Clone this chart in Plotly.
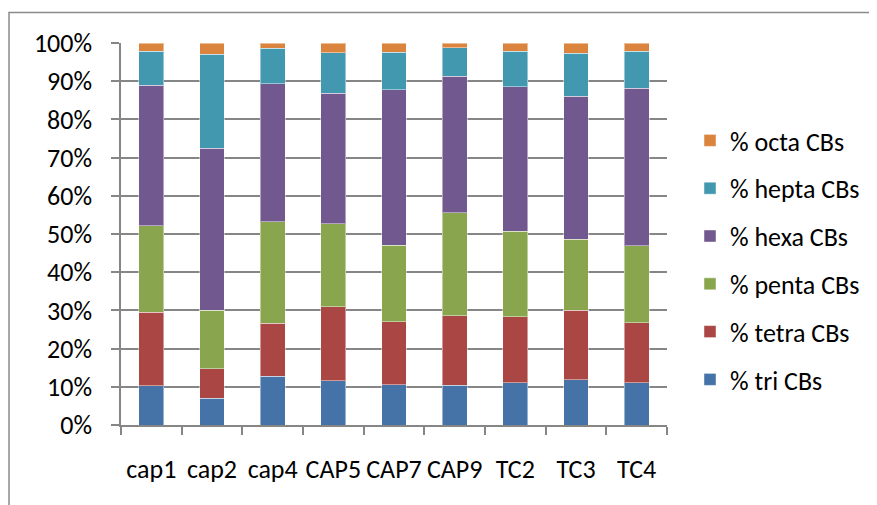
import plotly.graph_objects as go

categories = ["cap1", "cap2", "cap4", "CAP5", "CAP7", "CAP9", "TC2", "TC3", "TC4"]
tri = [10.3, 7.0, 12.7, 11.6, 10.5, 10.4, 11.1, 11.9, 11.1]
tetra = [19.2, 7.7, 14.0, 19.4, 16.5, 18.2, 17.2, 18.1, 15.7]
penta = [22.6, 15.4, 26.5, 21.7, 20.1, 27.0, 22.4, 18.6, 20.1]
hexa = [36.8, 42.4, 36.1, 34.2, 40.6, 35.7, 37.8, 37.5, 41.3]
hepta = [8.9, 24.6, 9.3, 10.6, 9.9, 7.5, 9.3, 11.2, 9.6]
octa = [2.2, 2.9, 1.4, 2.5, 2.4, 1.2, 2.2, 2.7, 2.2]

series = [
    ("% tri CBs", tri, "#4572A7"),
    ("% tetra CBs", tetra, "#AA4643"),
    ("% penta CBs", penta, "#89A54E"),
    ("% hexa CBs", hexa, "#71588F"),
    ("% hepta CBs", hepta, "#4198AF"),
    ("% octa CBs", octa, "#DB843D"),
]

FONT = "Carlito, Open Sans, Liberation Sans, sans-serif"
FS = 26

fig = go.Figure()
n = len(series)
for i, (name, vals, col) in enumerate(series):
    fig.add_trace(go.Bar(
        x=categories, y=vals, name=name, legendgroup=name, legendrank=n - i,
        marker=dict(color=col, line=dict(color="rgba(255,255,255,0.45)", width=1)),
    ))

# page is offset 8px by the browser body margin; compensate
OFF = 8
W, H = 877 - OFF, 505 - OFF
ml, mt = 121 - OFF, 43 - OFF
pw, ph = 546, 382
mr, mb = W - ml - pw, H - mt - ph

def px_x(p):
    return (p - OFF - ml) / pw

def px_y(p):
    return (H - mb - (p - OFF)) / ph

fig.update_layout(
    width=W, height=H,
    margin=dict(l=ml, r=mr, t=mt, b=mb, autoexpand=False),
    barmode="stack", barnorm="percent", bargap=0.59,
    plot_bgcolor="white", paper_bgcolor="white",
    font=dict(family=FONT, size=FS, color="#000000"),
    showlegend=True,
    legend=dict(
        x=px_x(690), y=px_y(117), xanchor="left", yanchor="top",
        traceorder="grouped", tracegroupgap=11,
        font=dict(family=FONT, size=FS, color="#000000"),
        bgcolor="rgba(0,0,0,0)",
    ),
    xaxis=dict(
        showgrid=False, showline=True, linecolor="#868686", linewidth=1.5,
        ticks="outside", ticklen=8, tickcolor="#868686", tickwidth=1.5,
        tickson="boundaries", ticklabelstandoff=20, tickangle=0,
        tickfont=dict(family=FONT, size=FS, color="#000000"),
    ),
    yaxis=dict(
        range=[0, 100], dtick=10, ticksuffix="%",
        showgrid=True, gridcolor="#868686", gridwidth=1.5,
        showline=True, linecolor="#868686", linewidth=1.5,
        ticks="outside", ticklen=8, tickcolor="#868686", tickwidth=1.5,
        ticklabelstandoff=14, zeroline=False,
        tickfont=dict(family=FONT, size=FS, color="#000000"),
    ),
    shapes=[dict(
        type="rect", xref="paper", yref="paper",
        x0=px_x(9), x1=px_x(900), y0=px_y(530), y1=px_y(12.5),
        line=dict(color="#8a8a8a", width=1.5), fillcolor="rgba(0,0,0,0)", layer="below",
    )],
)

fig.write_html("out.html")
